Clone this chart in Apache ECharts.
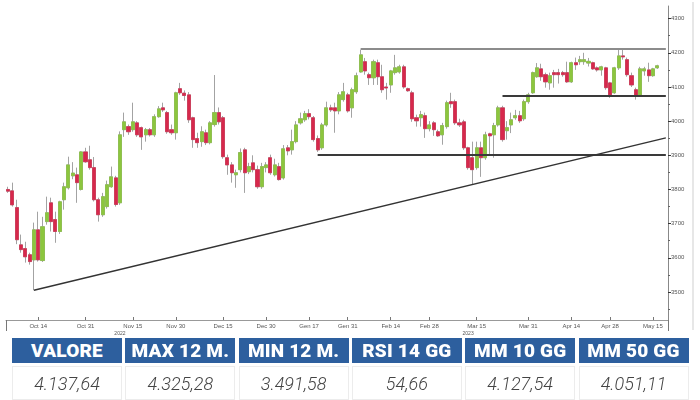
<!DOCTYPE html>
<html><head><meta charset="utf-8">
<script src="https://cdn.jsdelivr.net/npm/echarts@6/dist/echarts.min.js"></script>
<style>
html,body{margin:0;padding:0;background:#fff;}
#wrap{position:relative;width:700px;height:400px;overflow:hidden;background:#fff;}
#chart{position:absolute;left:0;top:0;width:700px;height:400px;}
.h{position:absolute;top:338px;height:25px;width:110px;background:#2d5f9e;color:#fff;font-family:Roboto,'Liberation Sans',sans-serif;font-weight:900;font-size:19px;letter-spacing:0.2px;text-align:center;line-height:26px;white-space:nowrap;}
.v{position:absolute;top:366px;height:32px;width:108px;background:#fff;border:1px solid #ececec;color:#444;font-family:Roboto,'Liberation Sans',sans-serif;font-style:italic;font-weight:300;font-size:18px;text-align:center;line-height:34px;white-space:nowrap;}
</style></head>
<body><div id="wrap"><div id="chart"></div></div>
<script>
// ---- data (index daily candles) ----
const open = [3800,3796,3747,3638,3627,3609,3594,3682,3592,3706,3761,3712,3677,3770,3805,3840,3843,3800,3910,3887,3864,3770,3726,3750,3808,3834,3761,3975,3984,3975,3995,3981,3960,3975,3960,4013,4039,4025,
3975,3966,4095,4082,4077,4010,3949,3940,3966,3937,3990,4025,4010,3893,3872,3843,3858,3916,3852,3878,3858,3808,3864,3893,3843,3867,3834,3922,3916,3940,3995,4004,4022,4010,3949,3922,3989,4039,
4039,4030,4063,4077,4039,4086,4144,4174,4136,4127,4171,4130,4100,4106,4142,4144,4159,4095,4083,4010,4010,4016,3978,3995,3969,3960,3984,4057,4057,3995,3998,3922,3893,3864,3922,3893,3963,3960,3989,
4039,3972,3989,4010,4016,4007,4057,4083,4130,4153,4136,4112,4142,4142,4142,4142,4115,4171,4174,4174,4170,4171,4156,4150,4156,4112,4083,4156,4191,4180,4133,4092,4077,4147,4150,4133,4156];
const close = [3795,3755,3653,3624,3603,3589,3682,3594,3691,3732,3706,3677,3764,3808,3872,3848,3820,3910,3881,3864,3770,3726,3779,3814,3837,3756,3960,3998,3969,3998,3960,3954,3975,3960,4013,4036,4033,3969,
3966,4083,4083,4075,4004,3946,3937,3969,3937,3995,4025,3998,3896,3872,3849,3849,3908,3849,3867,3858,3808,3867,3872,3849,3872,3829,3919,3913,3940,3989,4007,4022,4013,3946,3916,3989,4039,4033,
4030,4077,4086,4030,4092,4133,4194,4147,4127,4174,4130,4092,4097,4147,4156,4159,4100,4089,4007,4001,4019,3978,3989,3975,3957,3987,4054,4051,3995,3989,3922,3864,3858,3922,3893,3960,3957,3987,4039,
3946,3981,4004,4016,4001,4057,4077,4142,4156,4130,4115,4133,4136,4136,4136,4115,4171,4165,4180,4180,4175,4153,4150,4159,4098,4077,4156,4191,4188,4136,4106,4074,4153,4153,4133,4153,4162];
const high = [3808,3820,3770,3668,3647,3615,3703,3735,3720,3779,3776,3735,3767,3820,3896,3880,3864,3912,3922,3928,3895,3776,3790,3826,3867,3840,3970,4025,3990,4054,4000,3984,3980,3980,4020,4044,4054,4030,
3990,4086,4112,4090,4085,4013,3966,3985,3975,4000,4135,4040,4015,3902,3880,3858,3920,3922,3878,3900,3870,3878,3880,3902,3890,3878,3930,3930,3975,4000,4025,4030,4035,4015,3958,3995,4057,4048,
4054,4085,4112,4083,4098,4142,4209,4185,4142,4180,4180,4165,4112,4150,4194,4165,4165,4098,4089,4019,4030,4025,4000,4000,3975,3995,4060,4083,4063,4007,4004,3925,3940,3940,3940,3969,3966,3995,4045,
4045,4000,4025,4033,4030,4063,4083,4145,4170,4168,4142,4142,4150,4153,4147,4174,4174,4186,4191,4200,4185,4174,4160,4162,4159,4115,4159,4209,4209,4186,4142,4098,4159,4159,4171,4156,4165];
const low = [3790,3750,3640,3615,3586,3580,3505,3589,3588,3697,3677,3644,3670,3741,3800,3830,3761,3797,3878,3858,3765,3706,3720,3744,3805,3750,3755,3954,3960,3969,3954,3916,3940,3955,3954,4010,4027,3963,
3960,3946,4077,4060,3995,3922,3922,3925,3930,3932,3984,3990,3890,3843,3820,3805,3850,3790,3845,3850,3802,3802,3850,3843,3838,3826,3829,3900,3902,3935,3990,3998,4005,3940,3910,3916,3984,4027,
3966,4020,4057,4025,4010,4080,4142,4136,4106,4106,4106,4083,4063,4083,4136,4139,4095,4086,3998,3984,3984,3951,3970,3957,3954,3931,3978,4039,3989,3983,3916,3858,3814,3858,3837,3887,3898,3893,3984,
3940,3946,3965,4004,3995,4001,4051,4080,4127,4118,4098,4092,4098,4110,4130,4112,4112,4150,4165,4165,4160,4150,4145,4133,4092,4068,4080,4150,4180,4130,4100,4063,4074,4133,4115,4130,4153];

// x-axis ticks (category index -> label)
const tickLabels = ['Oct 14','Oct 31','Nov 15','Nov 30','Dec 15','Dec 30','Gen 17','Gen 31','Feb 14','Feb 28','Mar 15','Mar 31','Apr 14','Apr 28','May 15'];
const tickIndex  = [7,18,29,39,50,60,70,79,89,98,109,121,131,140,150];
const yearLabels = ['2022','2023'];
const yearIndex  = [26,107];
const yearBreak  = 61;
const yTicks = [3500,3600,3700,3800,3900,4000,4100,4200,4300];
const yMinor = [3450,3550,3650,3750,3850,3950,4050,4150,4250];

// drawn levels
const resistance = {from:82, value:4212};
const support    = {from:115, value:4074};
const midLevel   = {from:72, value:3903};
const trend      = {from:[6,3505], to:[153,3951]};

// table
const headers = ['VALORE','MAX 12 M.','MIN 12 M.','RSI 14 GG','MM 10 GG','MM 50 GG'];
const stats   = ['4.137,64','4.325,28','3.491,58','54,66','4.127,54','4.051,11'];

// ---- build ----
const nCats = open.length + 2;
const categories = Array.from({length:nCats}, (_, i) => String(i));
const lastIdx = nCats - 1;
const wickData = open.map((o,i) => [o, close[i], low[i], high[i]]);
const bodyData = open.map((o,i) => [o, close[i], Math.min(o,close[i]), Math.max(o,close[i])]);
const lastClose = close[close.length-1];

const chart = echarts.init(document.getElementById('chart'));
const axisFont = {fontSize:6, color:'#555', fontFamily:'Liberation Sans, Arial, sans-serif'};
chart.setOption({
  animation:false,
  backgroundColor:'transparent',
  grid:{left:6, right:32, top:6, bottom:80},
  xAxis:[{
    type:'category', data:categories, boundaryGap:true,
    axisLine:{show:true, lineStyle:{color:'#999', width:1}},
    axisTick:{show:true, inside:true, length:3, alignWithLabel:true, interval:(i)=>tickIndex.includes(i), lineStyle:{color:'#777'}},
    axisLabel:Object.assign({show:true, margin:3, interval:(i)=>tickIndex.includes(i), formatter:(v,i)=>{const k=tickIndex.indexOf(Number(v)); return k>=0?tickLabels[k]:'';}}, axisFont),
    splitLine:{show:false}
  },{
    type:'category', data:categories, boundaryGap:true, position:'bottom', gridIndex:0,
    axisLine:{show:false},
    axisTick:{show:true, length:11, interval:(i)=>i===yearBreak, lineStyle:{color:'#777'}},
    axisLabel:Object.assign({show:true, margin:11, interval:(i)=>yearIndex.includes(i), formatter:(v)=>{const k=yearIndex.indexOf(Number(v)); return k>=0?yearLabels[k]:'';}}, axisFont, {fontSize:5}),
    splitLine:{show:false}
  }],
  yAxis:[{
    type:'value', position:'right', min:3418, max:4337,
    axisLine:{show:true, lineStyle:{color:'#888'}},
    axisTick:{show:true, length:3, customValues:yTicks, lineStyle:{color:'#333'}},
    axisLabel:Object.assign({show:true, margin:3, customValues:yTicks, formatter:(v)=>String(v)}, axisFont),
    splitLine:{show:false}
  },{
    type:'value', position:'right', min:3418, max:4337,
    axisLine:{show:false},
    axisTick:{show:true, length:2, customValues:yMinor, lineStyle:{color:'#666'}},
    axisLabel:{show:false},
    splitLine:{show:false}
  }],
  graphic:[{type:'line', shape:{x1:693, y1:2, x2:693, y2:330}, style:{stroke:'#cfcfcf', lineWidth:1}, silent:true}],
  series:[{
    type:'candlestick', name:'wick', data:wickData, barWidth:3.6,
    itemStyle:{color:'#a3a3a3', color0:'#a3a3a3', borderColor:'#a3a3a3', borderColor0:'#a3a3a3', borderWidth:1},
    markLine:{
      silent:true, symbol:['none','none'],
      label:{show:false},
      lineStyle:{type:'solid'},
      data:[
        [{coord:[String(resistance.from), resistance.value], lineStyle:{color:'#8c8c8c', width:2, type:'solid'}}, {coord:[String(lastIdx), resistance.value]}],
        [{coord:[String(support.from), support.value], lineStyle:{color:'#3a3a3a', width:2, type:'solid'}}, {coord:[String(lastIdx), support.value]}],
        [{coord:[String(midLevel.from), midLevel.value], lineStyle:{color:'#3a3a3a', width:2, type:'solid'}}, {coord:[String(lastIdx), midLevel.value]}],
        [{coord:[String(trend.from[0]), trend.from[1]], lineStyle:{color:'#333', width:1.5, type:'solid'}}, {coord:[String(trend.to[0]), trend.to[1]]}]
      ]
    }
  },{
    type:'candlestick', name:'body', data:bodyData, barWidth:3.6,
    itemStyle:{color:'#8cc63e', color0:'#d7284c', borderColor:'#8cc63e', borderColor0:'#d7284c', borderWidth:0.6},
    markLine:{
      silent:true, symbol:['none','none'],
      lineStyle:{width:0, opacity:0},
      label:{show:true, position:'end', distance:2, formatter:()=>lastClose.toFixed(2), backgroundColor:'#8cc63e', color:'#fff', fontSize:6, padding:[1,2], borderRadius:2, fontFamily:'Liberation Sans, Arial, sans-serif'},
      data:[{yAxis:lastClose}]
    }
  }]
});

// table (HTML text)
const wrap = document.getElementById('wrap');
headers.forEach((h,i)=>{
  const left = 12 + i*113.3;
  const d = document.createElement('div'); d.className='h'; d.style.left=left+'px'; d.textContent=h; wrap.appendChild(d);
  const v = document.createElement('div'); v.className='v'; v.style.left=left+'px'; v.textContent=stats[i]; wrap.appendChild(v);
});
</script></body></html>
